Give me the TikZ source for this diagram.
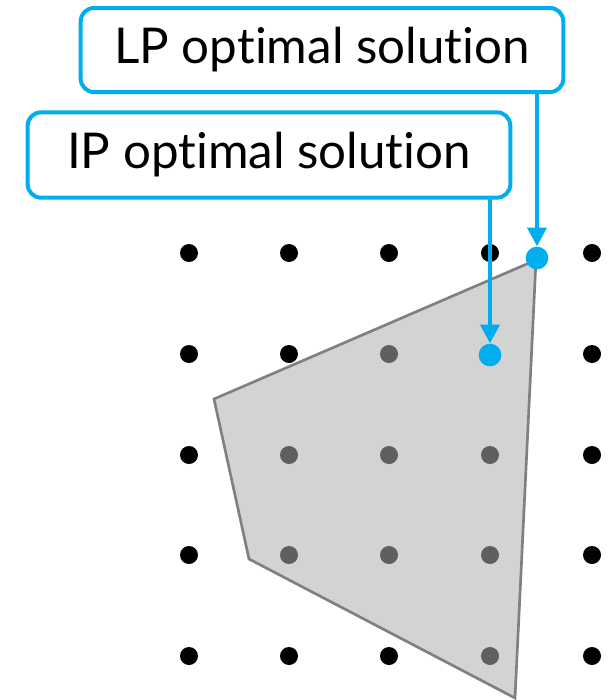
\documentclass[tikz,border=0pt]{standalone}
\usepackage{fontspec}
\setmainfont{Lato}[Ligatures={NoCommon,NoDiscretionary,NoContextual}]
\usetikzlibrary{arrows.meta}
\definecolor{callout}{RGB}{0,174,239}
\definecolor{regionfill}{RGB}{174,174,174}
\definecolor{regionedge}{RGB}{128,128,128}
\tikzset{
  latticept/.style={circle,fill=black,inner sep=0pt,minimum size=13.5pt},
  solpt/.style={circle,fill=callout,inner sep=0pt,minimum size=17pt},
  labelbox/.style={draw=callout,line width=3pt,rounded corners=10pt,fill=white,
    inner sep=0pt,font=\fontsize{37}{44}\selectfont},
  pointer/.style={draw=callout,line width=3.4pt,-{Triangle[width=14pt,length=14pt]},shorten >=0pt},
}
\begin{document}
\begin{tikzpicture}[x=0.75pt,y=-0.75pt]
\useasboundingbox (0,0) rectangle (615,700);
% integer lattice
\foreach \i/\x in {0/189,1/289,2/389,3/490,4/592}
  \foreach \j/\y in {0/253,1/354,2/455,3/555,4/656}
    \node[latticept] (p\i\j) at (\x,\y) {};
% feasible region of the relaxation
\filldraw[fill=regionfill,fill opacity=0.55,draw=regionedge,line width=2pt,line join=miter]
  (536,260) -- (214,399) -- (249,559) -- (515,698) -- cycle;
% optimal points
\node[solpt] (lp) at (537,258) {};
\node[solpt] (ip) at (490,355) {};
% labels
\node[labelbox,minimum width=362pt,minimum height=63pt] (lpbox) at (322,50) {LP optimal solution};
\node[labelbox,minimum width=362pt,minimum height=64pt] (ipbox) at (269,155) {IP optimal solution};
\coordinate (lpfoot) at (537,92);
\coordinate (ipfoot) at (490,198);
\draw[pointer] (lpfoot) -- (lp.north);
\draw[pointer] (ipfoot) -- (ip.north);
\end{tikzpicture}
\end{document}
